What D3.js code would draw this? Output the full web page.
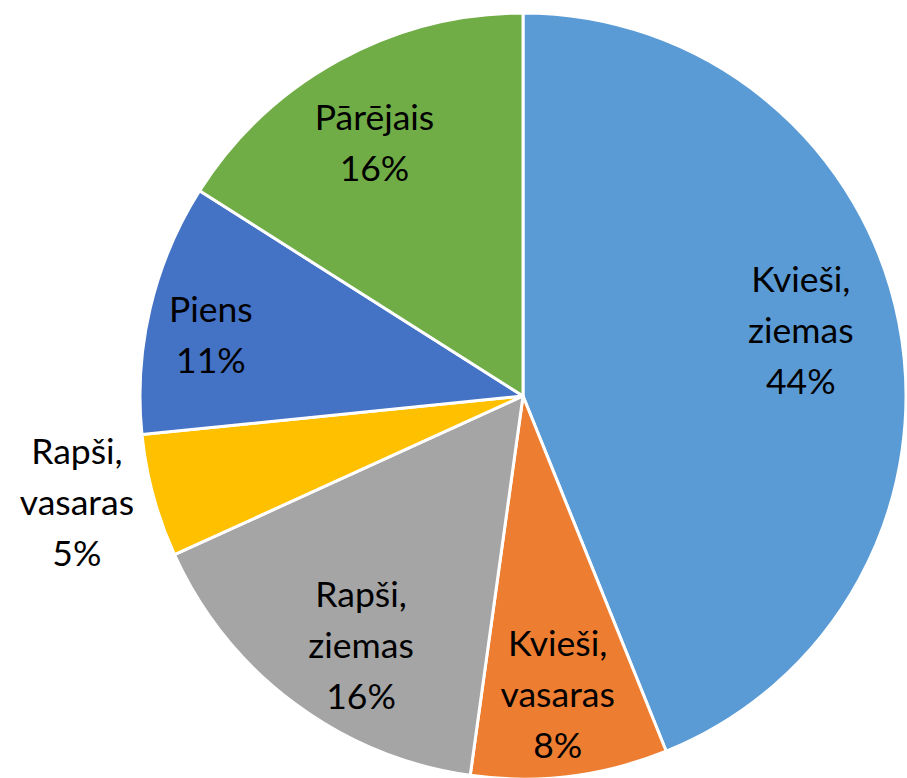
<!DOCTYPE html>
<html>
<head>
    <meta charset="UTF-8">
    <title>Pie chart</title>
    <script src="https://d3js.org/d3.v7.min.js"></script>
    <style type="text/css">
        body { margin: 0; background: white; }
        text { font-family: Lato, "Noto Sans", sans-serif; fill: black; }
    </style>
</head>
<body>
    <svg id="chart"></svg>

    <script>
        // chart data
        const categories = ["Kvieši, ziemas", "Kvieši, vasaras", "Rapši, ziemas", "Rapši, vasaras", "Piens", "Pārējais"];
        const shares = [43.9, 8.3, 16.0, 5.2, 10.6, 16.0];
        const colors = ["#5B9BD5", "#ED7D31", "#A5A5A5", "#FFC000", "#4472C4", "#70AD47"];

        const width = 907;
        const height = 778;
        const cx = 523;
        const cy = 396;
        const radius = 383;
        const fontSize = 35.5;
        const lineHeight = 51;

        // label placement: [radius factor, angle nudge in degrees] per slice
        const labelPlace = [[0.745, -2.2], [0.785, 0.4], [0.778, -3.8], [1.198, 1.6], [0.83, -2.4], [0.764, -1.7]];

        const svg = d3.select("#chart")
            .attr("width", width)
            .attr("height", height);

        const g = svg.append("g")
            .attr("transform", `translate(${cx},${cy})`);

        const pie = d3.pie().sort(null).value(d => d.value);
        const arcs = pie(categories.map((c, i) => ({ name: c, value: shares[i], color: colors[i] })));
        const total = d3.sum(shares);

        const arc = d3.arc().innerRadius(0).outerRadius(radius);

        g.selectAll(".slice")
            .data(arcs)
            .enter()
            .append("path")
            .attr("class", "slice")
            .attr("d", arc)
            .style("fill", d => d.data.color)
            .style("stroke", "white")
            .style("stroke-width", 3)
            .style("stroke-linejoin", "round");

        g.selectAll(".label")
            .data(arcs)
            .enter()
            .append("text")
            .attr("class", "label")
            .attr("text-anchor", "middle")
            .style("font-size", `${fontSize}px`)
            .each(function (d, i) {
                const [f, nudge] = labelPlace[i];
                const a = (d.startAngle + d.endAngle) / 2 + nudge * Math.PI / 180;
                const r = radius * f;
                const x = r * Math.sin(a);
                const y = -r * Math.cos(a);
                const parts = d.data.name.split(", ");
                const lines = parts.map((p, k) => k < parts.length - 1 ? p + "," : p);
                lines.push(Math.round(d.data.value / total * 100) + "%");
                const n = lines.length;
                d3.select(this).selectAll("tspan")
                    .data(lines)
                    .enter()
                    .append("tspan")
                    .attr("x", x)
                    .attr("y", (t, k) => y + (k - (n - 1) / 2) * lineHeight + 12)
                    .text(t => t);
            });
    </script>
</body>
</html>
